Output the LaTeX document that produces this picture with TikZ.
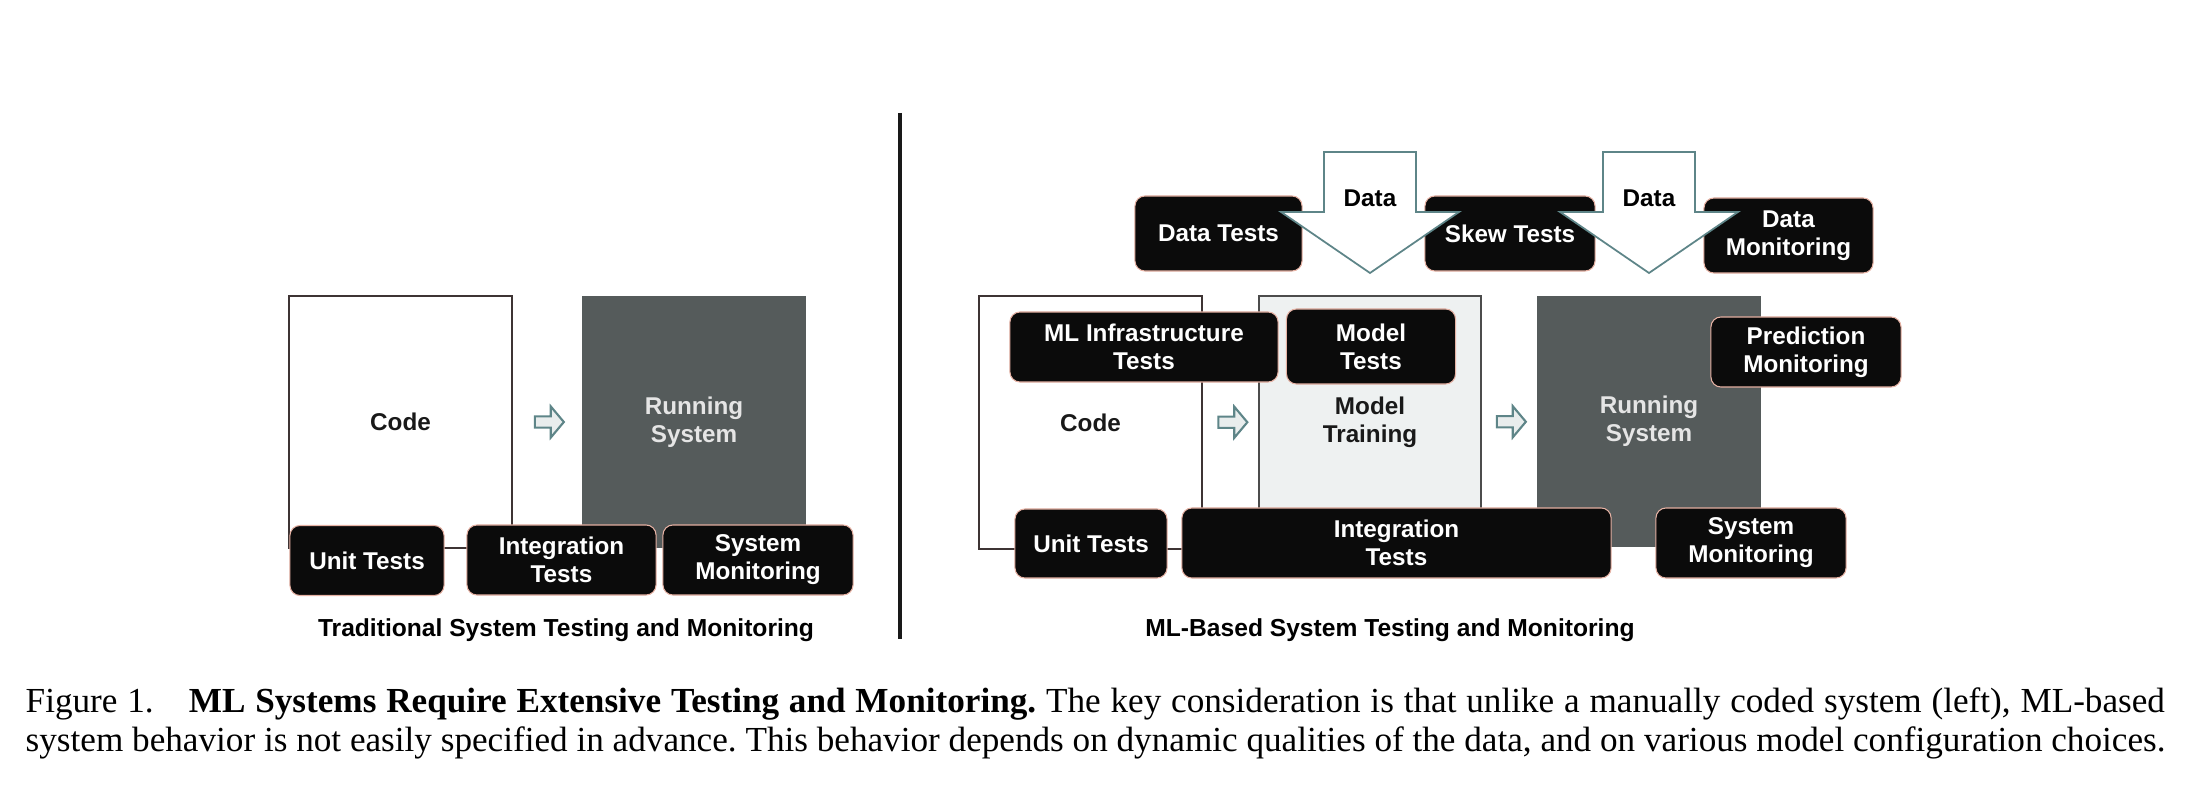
\documentclass[tikz,border=0pt]{standalone}
\usepackage{fontspec}
\setmainfont{Liberation Serif}
\newfontfamily\arialfont{Liberation Sans}
\usepackage{xcolor}
\usepackage{tikz}
\usetikzlibrary{shapes.arrows,calc}

\definecolor{boxblack}{HTML}{0B0B0B}
\definecolor{boxrim}{HTML}{E6B2A4}
\definecolor{runninggray}{HTML}{555B5B}
\definecolor{traininggray}{HTML}{EEF1F1}
\definecolor{arrowrim}{HTML}{5E8588}
\definecolor{arrowfill}{HTML}{E9EDED}
\definecolor{coderim}{HTML}{3E3434}

\newcommand{\boxfont}{\arialfont\bfseries\fontsize{6.9}{8}\selectfont}

\tikzset{
  stage/.style={draw=coderim, line width=0.6pt, inner sep=0pt, minimum width=2.23cm, minimum height=2.52cm, align=center, font=\boxfont, text=black!90},
  testbox/.style={fill=boxblack, draw=boxrim, line width=0.3pt, rounded corners=0.1cm, inner sep=0pt, minimum height=0.7cm, align=center, font=\boxfont, text=white},
  hollow/.style={single arrow, draw=arrowrim, fill=arrowfill, line width=0.6pt, inner sep=0.045cm, minimum height=0.29cm, single arrow head extend=0.1cm, single arrow tip angle=100},
  dataarrow/.style={draw=arrowrim, fill=white, line width=0.5pt, line join=miter},
  paneltitle/.style={font=\arialfont\bfseries\fontsize{7}{8.4}\selectfont, inner sep=0pt}
}

\begin{document}
\frenchspacing
\begin{tikzpicture}[x=0.01cm, y=-0.01cm]
        \useasboundingbox (0, 0) rectangle (2196, 794);

        % traditional system
        \node (code1) at (400.5, 422) [stage] {Code};
        \node (run1) at (694, 422) [stage, draw=none, fill=runninggray, minimum width=2.24cm, text=white!90!black] {Running\\System};
        \node (unit1) at (367, 560.5) [testbox, minimum width=1.54cm] {Unit Tests};
        \node (integ1) at (561.5, 560) [testbox, minimum width=1.89cm] {Integration\\Tests};
        \node (sysmon1) at (758, 560) [testbox, minimum width=1.90cm] {System\\Monitoring};
        \node (step1) at ($(code1.east)!0.5!(run1.west)$) [hollow] {};
        \node (title1) at (566, 630) [paneltitle] {Traditional System Testing and Monitoring};

        \draw [line width=1.4pt, black!90] (900, 113) -- (900, 639);

        % ML-based system
        \node (code2) at (1090.5, 422.5) [stage, minimum height=2.53cm] {Code};
        \node (model) at (1370, 422) [stage, fill=traininggray, draw=black!70, minimum width=2.22cm] {Model\\Training};
        \node (run2) at (1649, 421.5) [stage, draw=none, fill=runninggray, minimum width=2.24cm, minimum height=2.51cm, text=white!90!black] {Running\\System};
        \node (step2) at ($(code2.east)!0.5!(model.west)$) [hollow] {};
        \node (step3) at ($(model.east)!0.5!(run2.west)$) [hollow] {};
        \node (infra) at (1144, 347) [testbox, minimum width=2.68cm] {ML Infrastructure\\Tests};
        \node (modeltests) at (1371, 346.5) [testbox, minimum width=1.69cm, minimum height=0.75cm] {Model\\Tests};
        \node (predmon) at (1806, 352) [testbox, minimum width=1.90cm] {Prediction\\Monitoring};
        \node (unit2) at (1091, 543.5) [testbox, minimum width=1.52cm, minimum height=0.69cm] {Unit Tests};
        \node (integ2) at (1396.5, 543) [testbox, minimum width=4.29cm] {Integration\\Tests};
        \node (sysmon2) at (1751, 543) [testbox, minimum width=1.90cm] {System\\Monitoring};
        \node (datatests) at (1218.5, 233.5) [testbox, minimum width=1.67cm, minimum height=0.75cm] {Data Tests};
        \node (skewtests) at (1510, 233.5) [testbox, minimum width=1.70cm, minimum height=0.75cm] {Skew Tests};
        \node (datamon) at (1788.5, 235.5) [testbox, minimum width=1.69cm, minimum height=0.75cm] {Data\\Monitoring};
        \foreach \cx in {1370, 1649}
            \draw [dataarrow] (\cx-46, 152) -- (\cx+46, 152) -- (\cx+46, 212) -- (\cx+89, 212)
                -- (\cx, 273) -- (\cx-89, 212) -- (\cx-46, 212) -- cycle;
        \node (data1) at (1370, 198) [font=\boxfont] {Data};
        \node (data2) at (1649, 198) [font=\boxfont] {Data};
        \node (title2) at (1390, 630) [paneltitle] {ML-Based System Testing and Monitoring};

        % caption
        \node (caption1) at (25, 712) [anchor=base west, inner sep=0pt, font=\fontsize{10}{12}\selectfont]
            {\makebox[21.38cm][s]{Figure 1.\quad \textbf{ML Systems Require Extensive Testing and Monitoring.} The key consideration is that unlike a manually coded system (left), ML-based}};
        \node (caption2) at (25, 751) [anchor=base west, inner sep=0pt, font=\fontsize{10}{12}\selectfont]
            {system behavior is not easily specified in advance. This behavior depends on dynamic qualities of the data, and on various model configuration choices.};
    \end{tikzpicture}
\end{document}
